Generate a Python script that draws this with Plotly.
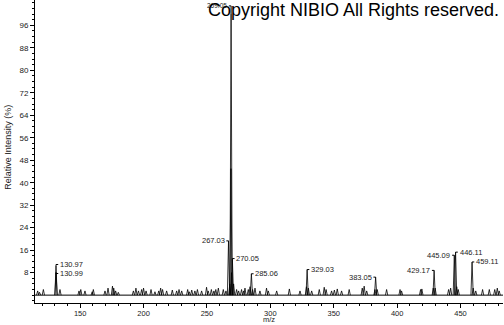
import plotly.graph_objects as go

# ---- data ----
peak_mz = [116.5, 118.0, 121.0, 130.97, 130.99, 134.1, 149.1, 150.5, 153.8, 159.5, 160.4, 169.6, 172.0,
           175.5, 176.5, 178.0, 180.1, 192.0, 194.0, 196.0, 198.5, 200.0, 202.0, 205.9, 209.0, 212.0,
           213.5, 215.0, 218.2, 222.7, 226.1, 228.0, 230.1, 234.8, 236.0, 238.0,
           240.5, 242.5, 245.8, 249.7, 251.0, 253.5, 255.5, 257.0, 259.0, 262.9, 265.0, 267.03, 268.0,
           268.95, 269.05, 269.4, 270.05, 271.05, 273.4, 275.0, 277.3, 279.0, 280.0, 282.6, 284.0,
           285.06, 286.0, 287.9, 291.8, 297.0, 298.4,
           305.0, 315.0, 323.4, 328.5, 329.03, 330.0, 332.6, 338.6, 342.5, 344.0, 348.3, 350.5, 352.8,
           356.2, 362.2, 372.5, 374.0, 376.0, 382.5, 383.05, 384.3, 391.7, 402.3, 403.5, 418.5, 419.5,
           428.5, 429.17, 430.0, 440.6, 442.2, 445.09, 446.11, 447.0, 448.2, 459.11, 460.0, 462.0,
           467.4, 472.7, 477.0, 479.0, 480.5]
peak_int = [1.5, 1.0, 2.0, 10.4, 8.0, 2.0, 1.5, 2.0, 1.5, 1.2, 2.0, 1.5, 2.5,
            3.2, 2.5, 1.5, 1.0, 1.5, 2.5, 1.5, 2.0, 2.5, 1.5, 2.0, 1.2, 1.5,
            2.5, 2.0, 1.5, 1.8, 1.5, 2.0, 1.5, 2.0, 1.2, 1.8,
            1.5, 2.0, 1.5, 2.8, 1.5, 2.0, 1.5, 2.0, 2.5, 2.0, 1.5, 19.3, 4.0,
            45.0, 100.0, 8.0, 13.0, 4.0, 2.0, 1.5, 2.0, 1.5, 2.5, 2.0, 3.0,
            7.6, 2.0, 2.5, 1.5, 2.5, 1.5,
            1.5, 2.2, 1.5, 3.0, 9.1, 2.5, 1.5, 2.0, 2.8, 2.0, 1.5, 1.8, 2.2,
            1.5, 2.0, 2.5, 3.2, 1.5, 2.0, 6.4, 2.0, 2.0, 2.0, 1.5, 2.0, 2.2,
            2.5, 8.8, 2.5, 2.0, 2.5, 14.2, 15.3, 3.0, 2.0, 11.8, 2.5, 1.5,
            2.0, 2.0, 2.0, 2.5, 1.5]

label_mz = [130.97, 130.99, 267.03, 269.05, 270.05, 285.06, 329.03, 383.05, 429.17, 445.09, 446.11, 459.11]
label_y = [10.9, 7.7, 19.3, 102.9, 13.0, 7.6, 9.1, 6.4, 8.8, 14.2, 15.3, 11.8]
label_side = ['r', 'r', 'l', 'l', 'r', 'r', 'r', 'l', 'l', 'l', 'r', 'r']
label_text = ['130.97', '130.99', '267.03', '269.05', '270.05', '285.06', '329.03', '383.05',
              '429.17', '445.09', '446.11', '459.11']

y_ticks = [8, 16, 24, 32, 40, 48, 56, 64, 72, 80, 88, 96]
x_ticks = [150, 200, 250, 300, 350, 400, 450]

x_range = [114.4, 483.5]
y_range = [-2.8, 105]

FONT = "Liberation Sans Narrow, Arial Narrow, Liberation Sans, Arial, sans-serif"
half_w = 0.9
plot_w_px = 468
mz_per_px = (x_range[1] - x_range[0]) / plot_w_px

# ---- spectrum as sticks ----
sx, sy = [], []
for m, i in zip(peak_mz, peak_int):
    sx += [m - half_w, m, m + half_w, None]
    sy += [0, i, 0, None]

fig = go.Figure()
fig.add_trace(go.Scatter(x=[x_range[0], x_range[1]], y=[0, 0], mode='lines',
                         line=dict(color='black', width=1), hoverinfo='skip', showlegend=False))
fig.add_trace(go.Scatter(x=sx, y=sy, mode='lines', line=dict(color='black', width=0.8),
                         hoverinfo='skip', showlegend=False))

# ---- label brackets ----
bx, by = [], []
for m, ly, s in zip(label_mz, label_y, label_side):
    idx = peak_mz.index(m)
    top = peak_int[idx]
    d = 2.2 * mz_per_px * (1 if s == 'r' else -1)
    bx += [m, m, m + d, None]
    by += [top, ly, ly, None]
fig.add_trace(go.Scatter(x=bx, y=by, mode='lines', line=dict(color='black', width=1),
                         hoverinfo='skip', showlegend=False))

for m, ly, s, t in zip(label_mz, label_y, label_side, label_text):
    fig.add_annotation(x=m, y=ly, text=t, showarrow=False,
                       xanchor='left' if s == 'r' else 'right',
                       xshift=3 if s == 'r' else -3, yanchor='middle', borderpad=0,
                       font=dict(family=FONT, size=6.5 if t == '269.05' else 7.5, color='#222'))

fig.add_annotation(xref='paper', yref='paper', x=0.995, y=1, yshift=2, xanchor='right', yanchor='top',
                   text='Copyright NIBIO All Rights reserved.', showarrow=False,
                   font=dict(family='Liberation Sans, Arial, sans-serif', size=18, color='black'))
fig.add_annotation(xref='paper', yref='paper', x=0.5, y=0, yshift=-16.5, xanchor='center', yanchor='middle',
                   text='m/z', showarrow=False, borderpad=0, font=dict(family=FONT, size=7.5, color='#222'))
fig.add_annotation(xref='paper', yref='paper', x=0, xshift=-27, y=0.512, xanchor='center', yanchor='middle',
                   text='Relative Intensity (%)', textangle=-90, showarrow=False,
                   font=dict(family=FONT, size=9, color='#222'))

fig.update_layout(
    width=504, height=325,
    margin=dict(l=35, r=1, t=0, b=22),
    paper_bgcolor='white', plot_bgcolor='white',
    font=dict(family=FONT, size=8, color='#222'),
    xaxis=dict(range=x_range, showgrid=False, zeroline=False, showline=True, linecolor='black',
               linewidth=1, ticks='outside', ticklen=4, tickcolor='black', tickmode='array',
               tickvals=x_ticks, ticklabelstandoff=-1, tickfont=dict(family=FONT, size=7.5, color='#222'),
               minor=dict(dtick=10, tick0=0, ticks='outside', ticklen=2, tickcolor='black')),
    yaxis=dict(range=y_range, showgrid=False, zeroline=False, showline=True, linecolor='black',
               linewidth=1, ticks='outside', ticklen=4, tickcolor='black', tickmode='array',
               tickvals=y_ticks, tickfont=dict(family=FONT, size=8, color='#222'),
               minor=dict(dtick=2, tick0=0, ticks='outside', ticklen=2, tickcolor='black')),
)

fig.write_html("out.html")
